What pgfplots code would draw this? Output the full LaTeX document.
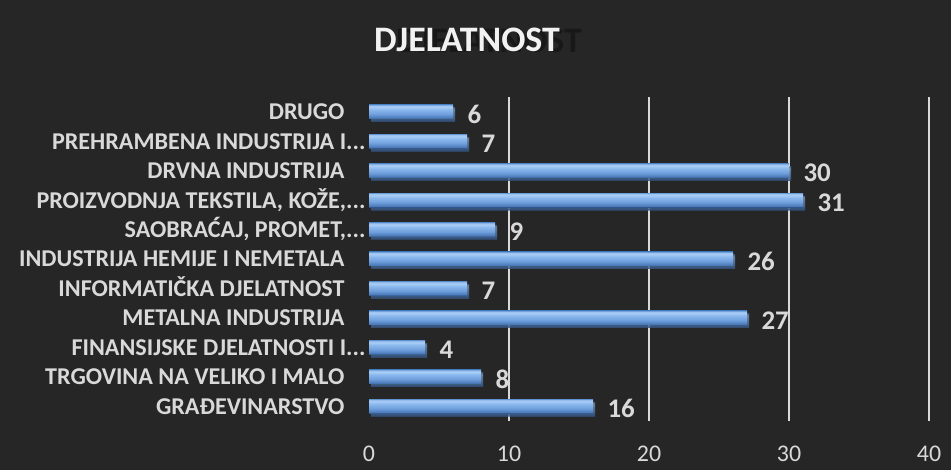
\documentclass[border=0pt]{standalone}
\usepackage{pgfplots}
\pgfplotsset{compat=1.18}
\usepackage{fontspec}
\setmainfont{Carlito}
\usetikzlibrary{shadows}
\definecolor{bg}{HTML}{262626}
\definecolor{txt}{HTML}{D9D9D9}
\definecolor{bA}{HTML}{2E5283}
\definecolor{bB}{HTML}{4A78B8}
\definecolor{bC}{HTML}{6F9FDC}
\definecolor{bD}{HTML}{8AB8EE}
\definecolor{bE}{HTML}{A8CCF5}
\definecolor{bF}{HTML}{9CC2F0}
\definecolor{bG}{HTML}{6F9FD8}
\pgfdeclareverticalshading{barshade}{100bp}{color(0bp)=(bA); color(25bp)=(bA); color(28bp)=(bB); color(42bp)=(bC); color(58bp)=(bD); color(67bp)=(bE); color(72bp)=(bF); color(75bp)=(bG); color(100bp)=(bG)}
\newcommand{\dd}{.{}.{}.}
\pgfplotsset{mybar/.style={xbar, bar width=14bp, bar shift=0pt, draw=none,
  shading=barshade,
  drop shadow={shadow xshift=2bp, shadow yshift=-3bp, fill=black, opacity=0.6}}}
\begin{document}
\begin{tikzpicture}
\fill[bg] (0bp,0bp) rectangle (951bp,470bp);
\node[anchor=base, font=\bfseries\fontsize{36}{40}\selectfont, text={rgb,255:red,24;green,24;blue,24}, inner sep=0pt] at (489bp,417bp) {DJELATNOST};
\node[anchor=base, font=\bfseries\fontsize{36}{40}\selectfont, text={rgb,255:red,242;green,242;blue,242}, inner sep=0pt] at (467bp,418bp) {DJELATNOST};
\begin{axis}[
  at={(369bp,49bp)}, anchor=south west,
  scale only axis, width=560bp, height=324bp,
  xmin=0, xmax=40, ymin=-0.5, ymax=10.5,
  xtick={10,20,30,40},
  extra x ticks={0},
  extra x tick style={grid=none},
  xmajorgrids,
  grid style={draw=txt, line width=1.5bp},
  axis line style={draw=none},
  major tick length=0pt,
  tick style={draw=none},
  /pgf/number format/assume math mode=true,
  xticklabel style={font=\fontsize{24}{28}\selectfont, text=txt, anchor=base, yshift=-40.5bp},
  ytick={0,1,2,3,4,5,6,7,8,9,10},
  yticklabels={
    {GRAĐEVINARSTVO\hspace*{21bp}},
    {TRGOVINA NA VELIKO I MALO\hspace*{21bp}},
    {FINANSIJSKE DJELATNOSTI I\dd},
    {METALNA INDUSTRIJA\hspace*{21bp}},
    {INFORMATIČKA DJELATNOST\hspace*{21bp}},
    {INDUSTRIJA HEMIJE I NEMETALA\hspace*{21bp}},
    {SAOBRAĆAJ, PROMET,\dd},
    {PROIZVODNJA TEKSTILA, KOŽE,\dd},
    {DRVNA INDUSTRIJA\hspace*{21bp}},
    {PREHRAMBENA INDUSTRIJA I\dd},
    {DRUGO\hspace*{21bp}}
  },
  yticklabel style={font=\bfseries\fontsize{24.2}{27}\selectfont, text=txt, anchor=base east, yshift=-8bp},
  xbar, bar width=14bp,
  nodes near coords,
  every node near coord/.append style={font=\bfseries\fontsize{27}{30}\selectfont, text=txt, anchor=west, xshift=11bp, yshift=-2.5bp},
]
\addplot[mybar] coordinates {(16,0)};
\addplot[mybar] coordinates {(8,1)};
\addplot[mybar] coordinates {(4,2)};
\addplot[mybar] coordinates {(27,3)};
\addplot[mybar] coordinates {(7,4)};
\addplot[mybar] coordinates {(26,5)};
\addplot[mybar] coordinates {(9,6)};
\addplot[mybar] coordinates {(31,7)};
\addplot[mybar] coordinates {(30,8)};
\addplot[mybar] coordinates {(7,9)};
\addplot[mybar] coordinates {(6,10)};
\end{axis}
\pgfresetboundingbox
\useasboundingbox (0bp,0bp) rectangle (951bp,470bp);
\end{tikzpicture}
\end{document}
